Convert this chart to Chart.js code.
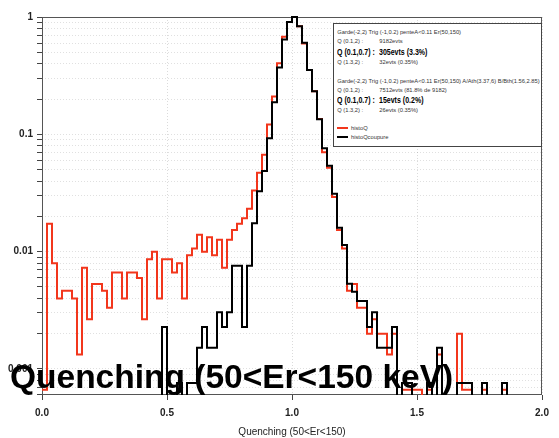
<!DOCTYPE html>
<html>
<head>
<meta charset="utf-8">
<title>Quenching (50&lt;Er&lt;150)</title>
<script src="https://cdn.jsdelivr.net/npm/chart.js@4.4.1/dist/chart.umd.min.js"></script>
<style>
  html, body { margin: 0; padding: 0; background: #fff; }
  #wrap { position: relative; width: 559px; height: 438px; overflow: hidden; }
  #plot { position: absolute; left: 0; top: 0; }
  .stats { position: absolute; left: 333px; top: 23px; width: 209px; height: 124px; box-sizing: border-box;
           border: 1px solid #444; background: #fff; font-family: "Liberation Sans", Arial, sans-serif; color: #333; }
  .stats .t { position: absolute; height: 10px; line-height: 10px; white-space: nowrap; font-size: 5.75px; transform-origin: 0 50%; }
  .stats .t.big { font-size: 9px; font-weight: bold; color: #000; transform: scaleX(0.78); }
  .stats .sw { position: absolute; left: 3px; width: 11px; height: 2px; }
  .banner { position: absolute; left: 10px; top: 360px; font: bold 33.5px "Liberation Sans", Arial, sans-serif;
            line-height: 1; color: #000; white-space: nowrap; }
</style>
</head>
<body>
<div id="wrap">
  <canvas id="plot" width="559" height="438"></canvas>
  <div class="stats" id="stats"></div>
  <div class="banner">Quenching (50&lt;Er&lt;150 keV)</div>
</div>
<script>
// Bin edges of the quenching histogram: 100 bins of 0.02 between 0 and 2
const binEdges = Array.from({ length: 101 }, (_, i) => Math.round(i * 2) / 100);

// Counts per bin, all events
const histoQ = [
  1, 26, 12, 6, 7, 7, 6, 2, 11, 4,
  8, 8, 7, 5, 10, 10, 6, 10, 10, 9,
  4, 13, 15, 6, 13, 13, 10, 12, 6, 14,
  16, 21, 15, 20, 14, 19, 11, 19, 23, 26,
  29, 35, 50, 71, 101, 183, 316, 608, 1020, 1365,
  1506, 1255, 895, 532, 350, 203, 106, 78, 44, 23,
  16, 7, 8, 5, 5, 3, 4, 3, 3, 2,
  3, 0, 1, 1, 1, 1, 0, 1, 0, 2,
  0, 0, 0, 3, 1, 1, 0, 0, 1, 0,
  0, 0, 1, 0, 0, 0, 0, 0, 0, 0
];

// Counts per bin after the A/Ath, B/Bth cut
const histoQcoupure = [
  0, 0, 0, 0, 0, 0, 0, 0, 0, 0,
  0, 0, 0, 0, 0, 0, 0, 0, 0, 0,
  0, 0, 0, 0, 3, 0, 0, 1, 0, 1,
  1, 2, 3, 2, 2, 4, 3, 4, 10, 10,
  3, 10, 23, 43, 64, 122, 247, 488, 847, 1194,
  1316, 1097, 793, 465, 306, 177, 100, 71, 41, 21,
  15, 7, 6, 5, 5, 3, 4, 2, 2, 2,
  3, 0, 1, 1, 0, 0, 0, 1, 0, 2,
  0, 0, 0, 1, 1, 1, 0, 0, 1, 0,
  0, 0, 1, 0, 0, 0, 0, 0, 0, 0
];

const seriesNames = ['histoQ', 'histoQcoupure'];
const xTickValues = [0, 0.5, 1, 1.5, 2];
const xTickLabels = ['0.0', '0.5', '1.0', '1.5', '2.0'];
const yDecades = [1, 0.1, 0.01, 0.001];
const yTickLabels = ['1', '0.1', '0.01', '0.001'];

// Summary lines of the two selections
const statsBlocks = [
  { cut: 'Garde(-2,2) Trig (-1,0.2) penteA<0.11 Er(50,150)',
    rows: [['Q (0.1,2) :', '9182evts', false],
           ['Q (0.1,0.7) :', '305evts (3.3%)', true],
           ['Q (1.3,2) :', '32evts (0.35%)', false]] },
  { cut: 'Garde(-2,2) Trig (-1,0.2) penteA<0.11 Er(50,150) A/Ath(3.37,6) B/Bth(1.56,2.85)',
    rows: [['Q (0.1,2) :', '7512evts (81.8% de 9182)', false],
           ['Q (0.1,0.7) :', '15evts (0.2%)', true],
           ['Q (1.3,2) :', '26evts (0.35%)', false]] }
];

const RED = '#f2361c';
const BLACK = '#000000';
const EMPTY_BIN = 1e-9; // empty bins fall below the log axis and are clipped away

// Histogram outline: one point per lower bin edge plus the closing edge, normalised to the peak
function toSteps(counts) {
  const peak = Math.max(...counts);
  const pts = counts.map((c, i) => ({ x: binEdges[i], y: c > 0 ? c / peak : EMPTY_BIN }));
  pts.push({ x: binEdges[counts.length], y: pts[pts.length - 1].y });
  return pts;
}

// Stats box text
(function buildStats() {
  const box = document.getElementById('stats');
  const add = (text, left, top, big) => {
    const el = document.createElement('div');
    el.className = 't' + (big ? ' big' : '');
    el.textContent = text;
    el.style.left = left + 'px';
    el.style.top = top + 'px';
    box.appendChild(el);
  };
  const blockTops = [2.7, 52];
  const rowTops = [[11.7, 22.7, 32.7], [61, 71, 81]];
  statsBlocks.forEach((b, bi) => {
    add(b.cut, 3.3, blockTops[bi], false);
    b.rows.forEach((r, ri) => {
      add(r[0], 3.3, rowTops[bi][ri], r[2]);
      add(r[1], 45.3, rowTops[bi][ri], r[2]);
    });
  });
  const legendTops = [98.7, 108.3];
  [RED, BLACK].forEach((col, i) => {
    const sw = document.createElement('div');
    sw.className = 'sw';
    sw.style.top = (legendTops[i] + 4) + 'px';
    sw.style.background = col;
    box.appendChild(sw);
    add(seriesNames[i], 17, legendTops[i], false);
  });
})();

// Dark frame round the plotting area
const framePlugin = {
  id: 'frame',
  beforeDatasetsDraw(chart) {
    const { ctx, chartArea: a } = chart;
    ctx.save();
    ctx.strokeStyle = '#555';
    ctx.lineWidth = 1;
    ctx.strokeRect(Math.round(a.left) + 0.5, Math.round(a.top) + 0.5,
                   Math.round(a.right - a.left) - 1, Math.round(a.bottom - a.top) - 1);
    ctx.restore();
  }
};

// Scales keep a fixed size and add no label overhang to the layout
const noOverhang = s => { s.paddingLeft = 0; s.paddingRight = 0; s.paddingTop = 0; s.paddingBottom = 0; };

const tickFont = { family: '"Liberation Sans Narrow", "Liberation Sans", Arial, sans-serif', size: 10, weight: 'bold' };

new Chart(document.getElementById('plot'), {
  type: 'line',
  data: {
    datasets: [
      { label: seriesNames[0], data: toSteps(histoQ), borderColor: RED, borderWidth: 2, order: 2 },
      { label: seriesNames[1], data: toSteps(histoQcoupure), borderColor: BLACK, borderWidth: 2, order: 1 }
    ]
  },
  options: {
    responsive: false,
    animation: false,
    devicePixelRatio: 1,
    layout: { padding: { left: 0, top: 17, right: 17, bottom: 0 } },
    elements: {
      line: { stepped: true, tension: 0, fill: false, borderJoinStyle: 'miter', borderCapStyle: 'butt' },
      point: { radius: 0, hoverRadius: 0 }
    },
    datasets: { line: { clip: { left: 0, top: 2, right: 0, bottom: 0 } } },
    plugins: { legend: { display: false }, tooltip: { enabled: false } },
    scales: {
      x: {
        type: 'linear', min: 0, max: 2,
        afterBuildTicks: s => { s.ticks = xTickValues.map(v => ({ value: v })); },
        afterFit: s => { s.height = 43; noOverhang(s); },
        ticks: {
          autoSkip: false, maxRotation: 0, padding: 7, color: '#222', font: tickFont,
          callback: v => { const i = xTickValues.indexOf(v); return i >= 0 ? xTickLabels[i] : ''; }
        },
        grid: { color: 'rgba(0,0,0,0.14)', lineWidth: 1, tickLength: 5, tickColor: '#444', tickBorderDash: [] },
        border: { display: false, dash: [1, 2] },
        title: {
          display: true, text: 'Quenching (50<Er<150)', color: '#222',
          font: { family: '"Liberation Sans Narrow", "Liberation Sans", Arial, sans-serif', size: 10 },
          padding: { top: 0, bottom: 0 }
        }
      },
      y: {
        type: 'logarithmic', min: 6.4e-4, max: 1,
        afterBuildTicks: s => {
          const t = [];
          for (let e = -4; e <= 0; e++) {
            for (let m = 1; m <= 9; m++) {
              const v = m * Math.pow(10, e);
              if (v >= s.min * 0.9999 && v <= s.max * 1.0001) t.push({ value: v });
            }
          }
          s.ticks = t;
        },
        afterFit: s => { s.width = 42; noOverhang(s); },
        ticks: {
          autoSkip: false, padding: 4, color: '#222', font: tickFont,
          callback: v => {
            const i = yDecades.findIndex(d => Math.abs(d - v) / d < 1e-6);
            return i >= 0 ? yTickLabels[i] : '';
          }
        },
        grid: { color: 'rgba(0,0,0,0.12)', lineWidth: 1, tickLength: 5, tickColor: '#444', tickBorderDash: [] },
        border: { display: false, dash: [1, 2] }
      }
    }
  },
  plugins: [framePlugin]
});
</script>
</body>
</html>
